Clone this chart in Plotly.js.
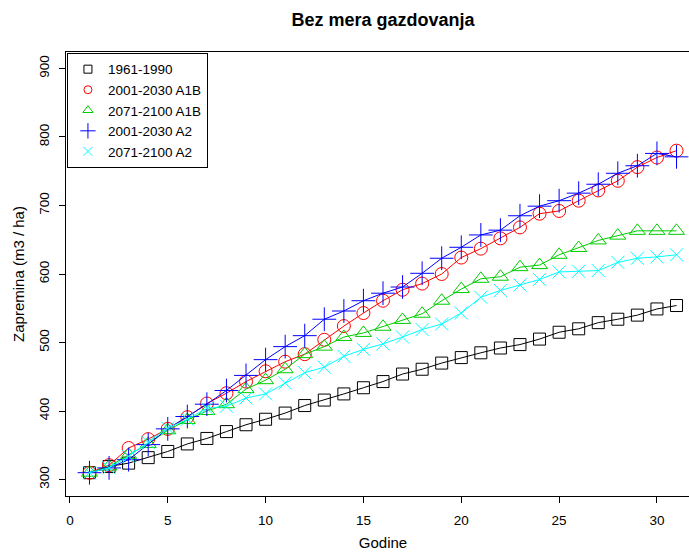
<!DOCTYPE html>
<html>
<head>
<meta charset="utf-8">
<script src="https://cdn.plot.ly/plotly-3.0.1.min.js"></script>
<style>
  html, body { margin: 0; padding: 0; background: #fff; overflow: hidden; }
  #chart { width: 702px; height: 554px; }
</style>
</head>
<body>
<div id="chart"></div>
<script>
// Data
const godine = [1,2,3,4,5,6,7,8,9,10,11,12,13,14,15,16,17,18,19,20,21,22,23,24,25,26,27,28,29,30,31];

const s1961_1990 = [310, 319, 324, 332, 341, 352, 360, 370, 380, 388, 397, 408, 416, 425, 434, 443, 454, 461, 470, 478, 485, 492, 497, 505, 515, 520, 529, 534, 540, 549, 554];
const s2001_2030_A1B = [310, 321, 346, 359, 374, 391, 411, 426, 443, 458, 472, 483, 504, 524, 543, 561, 577, 586, 600, 624, 637, 652, 668, 688, 692, 707, 722, 736, 756, 770, 780];
const s2071_2100_A1B = [310, 319, 336, 352, 372, 387, 400, 410, 432, 445, 461, 483, 494, 508, 514, 523, 533, 542, 561, 578, 593, 596, 610, 613, 628, 638, 649, 656, 663, 663, 663];
const s2001_2030_A2 = [310, 317, 329, 351, 374, 392, 410, 430, 452, 475, 494, 510, 534, 546, 561, 572, 581, 601, 623, 639, 657, 664, 685, 699, 707, 718, 731, 747, 758, 776, 771];
const s2071_2100_A2 = [310, 317, 334, 354, 375, 388, 404, 407, 419, 425, 441, 456, 464, 480, 490, 498, 508, 519, 527, 543, 566, 576, 584, 592, 603, 604, 605, 617, 623, 625, 628];

const seriesNames = ["1961-1990", "2001-2030 A1B", "2071-2100 A1B", "2001-2030 A2", "2071-2100 A2"];
const seriesValues = [s1961_1990, s2001_2030_A1B, s2071_2100_A1B, s2001_2030_A2, s2071_2100_A2];
const seriesColors = ["#000000", "#FF0000", "#00CD00", "#0000FF", "#00FFFF"];
const seriesSymbols = ["square-open", "circle-open", "triangle-up-open", "cross-thin-open", "x-thin-open"];
const seriesSizes = [12, 13, 14, 17, 13];
const legendSizes = [8, 8, 9, 11, 9];

const xTicks = [0, 5, 10, 15, 20, 25, 30];
const yTicks = [300, 400, 500, 600, 700, 800, 900];

const traces = [];
seriesValues.forEach((vals, i) => {
  traces.push({
    x: godine, y: vals, type: "scatter", mode: "lines+markers",
    name: seriesNames[i], showlegend: false,
    line: { color: seriesColors[i], width: 1 },
    marker: { symbol: seriesSymbols[i], size: seriesSizes[i], color: seriesColors[i],
              line: { color: seriesColors[i], width: 1 } },
    hoverinfo: "x+y+name"
  });
});
// legend-only entries (symbols without lines, as in the reference)
seriesNames.forEach((nm, i) => {
  traces.push({
    x: [null], y: [null], type: "scatter", mode: "markers", name: nm, showlegend: true,
    marker: { symbol: seriesSymbols[i], size: legendSizes[i], color: seriesColors[i],
              line: { color: seriesColors[i], width: 1 } }
  });
});

const font = "Liberation Sans, Arial, sans-serif";
const layout = {
  width: 702, height: 554,
  margin: { l: 66, r: 2, t: 52, b: 58 },
  paper_bgcolor: "#fff", plot_bgcolor: "#fff",
  font: { family: font, color: "#000", size: 13 },
  title: {
    text: "<b>Bez mera gazdovanja</b>",
    font: { family: font, size: 18, color: "#000" },
    x: 0.5, xref: "paper", xanchor: "center",
    y: 1 - 20 / 554, yref: "container", yanchor: "middle"
  },
  xaxis: {
    range: [-0.2, 32.2], tickmode: "array", tickvals: xTicks, ticktext: xTicks.map(String),
    showgrid: false, zeroline: false, showline: true, mirror: true,
    linecolor: "#000", linewidth: 1, ticks: "outside", ticklen: 6, tickcolor: "#000",
    ticklabelstandoff: 6,
    tickfont: { family: font, size: 13.5, color: "#000" },
    title: { text: "Godine", font: { family: font, size: 15, color: "#000" }, standoff: 10 }
  },
  yaxis: {
    range: [276, 924], tickmode: "array", tickvals: yTicks, ticktext: yTicks.map(String),
    showgrid: false, zeroline: false, showline: true, mirror: true,
    linecolor: "#000", linewidth: 1, ticks: "outside", ticklen: 6, tickcolor: "#000",
    tickangle: -90, ticklabelstandoff: 5,
    tickfont: { family: font, size: 13.5, color: "#000" },
    title: { text: "Zapremina (m3 / ha)", font: { family: font, size: 15, color: "#000" }, standoff: 8 }
  },
  legend: {
    x: 0.0015, y: 0.998, xanchor: "left", yanchor: "top",
    bgcolor: "#fff", bordercolor: "#000", borderwidth: 1,
    font: { family: font, size: 13.5, color: "#000" },
    tracegroupgap: 0, itemwidth: 30
  },
  showlegend: true
};

Plotly.newPlot("chart", traces, layout, { displayModeBar: false, staticPlot: true });
</script>
</body>
</html>
